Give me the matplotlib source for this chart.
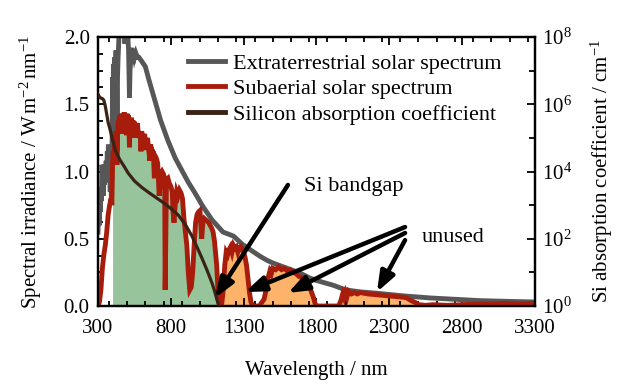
import numpy as np
import matplotlib
matplotlib.use("Agg")
import matplotlib.pyplot as plt
from matplotlib.ticker import MultipleLocator, LogLocator, NullFormatter

plt.rcParams['font.family'] = ['Liberation Serif', 'DejaVu Serif']
plt.rcParams['mathtext.fontset'] = 'custom'
plt.rcParams['mathtext.rm'] = 'Liberation Serif'
plt.rcParams['mathtext.it'] = 'Liberation Serif:italic'
plt.rcParams['font.size'] = 15

# Extraterrestrial (AM0) spectrum, W m^-2 nm^-1
etr_wl = [300, 304, 308, 312, 316, 320, 324, 328, 332, 336, 340, 344, 348, 352, 356,
          360, 364, 368, 372, 376, 380, 384, 388, 392, 396, 400, 404, 408, 412, 416,
          420, 424, 428, 431, 434, 438, 442, 446, 450, 455, 460, 465, 470, 475, 480,
          485, 490, 495, 500, 505, 510, 516, 520, 526, 532, 538, 545, 552, 560, 570,
          580, 600, 625, 650, 690, 730, 780, 830, 880, 920, 966, 1020, 1083, 1158,
          1230, 1290, 1343, 1412, 1460, 1500, 1550, 1600, 1687, 1750, 1800, 1913,
          2000, 2100, 2215, 2400, 2580, 2750, 2922, 3100, 3300]
etr_val = [0.55, 0.72, 0.60, 0.80, 0.70, 0.88, 0.78, 1.05, 0.95, 0.82, 1.05, 0.90, 1.00, 0.92, 1.08,
           0.98, 1.15, 1.05, 1.20, 0.95, 1.18, 0.85, 1.10, 0.75, 1.05, 1.70, 1.55, 1.80, 1.70, 1.85,
           1.72, 1.90, 1.60, 1.15, 1.70, 1.85, 1.95, 2.05, 2.10, 2.05, 2.10, 2.05, 2.10, 2.05, 2.12,
           1.95, 2.05, 2.00, 1.95, 2.00, 1.90, 1.55, 1.75, 1.85, 1.92, 1.80, 1.90, 1.85, 1.88, 1.85,
           1.85, 1.82, 1.78, 1.68, 1.53, 1.38, 1.23, 1.10, 1.00, 0.92, 0.84, 0.74, 0.64, 0.55,
           0.52, 0.46, 0.42, 0.37, 0.34, 0.32, 0.30, 0.28, 0.245, 0.21, 0.19, 0.155,
           0.12, 0.105, 0.095, 0.075, 0.06, 0.05, 0.04, 0.035, 0.03]

# Subaerial (AM1.5) spectrum, W m^-2 nm^-1
sub_wl = [300, 310, 320, 330, 340, 350, 360, 370, 380, 390, 395, 400, 405, 410, 415,
          420, 425, 430, 435, 440, 445, 450, 455, 460, 465, 470, 475, 480, 485, 490,
          495, 500, 505, 510, 516, 520, 525, 530, 535, 540, 545, 550, 560, 570, 580,
          590, 595, 600, 610, 620, 630, 640, 650, 656, 660, 670, 680, 687, 690, 700,
          710, 720, 725, 730, 740, 750, 758, 761, 765, 770, 780, 790, 800, 810, 815,
          822, 830, 840, 850, 860, 870, 880, 890, 900, 910, 920, 930, 940, 950, 960,
          970, 980, 990, 1000, 1012, 1020, 1030, 1040, 1050, 1060, 1070, 1080, 1090, 1100,
          1107, 1115, 1122, 1130, 1140, 1150, 1160, 1170, 1180, 1190, 1200, 1210, 1220, 1230,
          1240, 1250, 1260, 1270, 1280, 1290, 1300, 1310, 1320, 1330, 1340, 1350, 1360, 1410,
          1420, 1440, 1450, 1460, 1470, 1480, 1490, 1500, 1520, 1540, 1560, 1580, 1600, 1620,
          1640, 1660, 1680, 1700, 1720, 1740, 1760, 1780, 1790, 1800, 1950, 1960, 1970, 1980,
          1990, 2000, 2010, 2020, 2040, 2060, 2080, 2100, 2150, 2200, 2250, 2300, 2350, 2400,
          2420, 2450, 2480, 2500, 2550, 2600, 2700, 2800, 2900, 3000, 3100, 3200, 3300]
sub_val = [0.00, 0.03, 0.12, 0.28, 0.38, 0.45, 0.55, 0.68, 0.75, 0.80, 0.75, 1.05, 1.15, 1.10, 1.25,
           1.22, 1.30, 1.05, 1.30, 1.38, 1.28, 1.42, 1.30, 1.43, 1.28, 1.42, 1.30, 1.44, 1.28, 1.42,
           1.27, 1.43, 1.29, 1.42, 1.18, 1.35, 1.26, 1.40, 1.28, 1.38, 1.25, 1.37, 1.26, 1.36, 1.25,
           1.30, 1.15, 1.30, 1.20, 1.28, 1.16, 1.25, 1.14, 1.08, 1.20, 1.16, 1.14, 0.95, 1.12, 1.10,
           1.06, 0.82, 0.88, 0.98, 1.00, 0.98, 0.94, 0.12, 0.45, 0.94, 0.95, 0.91, 0.89, 0.85, 0.70,
           0.62, 0.75, 0.85, 0.82, 0.86, 0.84, 0.80, 0.65, 0.55, 0.45, 0.25, 0.12, 0.14, 0.25, 0.45,
           0.62, 0.68, 0.70, 0.71, 0.50, 0.62, 0.65, 0.64, 0.63, 0.62, 0.60, 0.58, 0.55, 0.48,
           0.40, 0.30, 0.15, 0.02, 0.00, 0.02, 0.12, 0.30, 0.40, 0.38, 0.42, 0.44, 0.40, 0.45,
           0.43, 0.44, 0.40, 0.43, 0.44, 0.42, 0.40, 0.36, 0.30, 0.20, 0.10, 0.03, 0.00, 0.00,
           0.02, 0.05, 0.10, 0.18, 0.22, 0.26, 0.24, 0.28, 0.27, 0.29, 0.27, 0.28, 0.26, 0.27,
           0.25, 0.24, 0.22, 0.21, 0.19, 0.16, 0.12, 0.06, 0.02, 0.00, 0.00, 0.02, 0.05, 0.09,
           0.06, 0.10, 0.07, 0.11, 0.09, 0.10, 0.09, 0.10, 0.09, 0.085, 0.08, 0.075, 0.07, 0.065,
           0.06, 0.04, 0.025, 0.01, 0.005, 0.01, 0.005, 0.01, 0.015, 0.015, 0.02, 0.015, 0.02]

# Silicon absorption coefficient, log10(cm^-1)
si_wl = [300, 310, 320, 330, 340, 350, 360, 370, 380, 400, 420, 450, 480, 506, 550,
         600, 650, 700, 750, 800, 850, 900, 945, 980, 1014, 1050, 1083, 1100, 1117, 1130]
si_log = [6.30, 6.22, 6.18, 6.17, 6.12, 5.95, 5.70, 5.45, 5.30, 4.95, 4.62, 4.35, 4.15, 3.96, 3.72,
          3.53, 3.37, 3.22, 3.07, 2.90, 2.71, 2.42, 2.08, 1.75, 1.42, 1.05, 0.68, 0.45, 0.18, 0.0]

bandgap_nm = 1107
used_start_nm = 400
unused_end_nm = 2500

x_ticks = [300, 800, 1300, 1800, 2300, 2800, 3300]
y_ticks = [0.0, 0.5, 1.0, 1.5, 2.0]

GREY = '#575757'
RED = '#a81c0c'
BROWN = '#3a2217'
GREEN = '#98c49b'
ORANGE = '#fdb46a'

fig = plt.figure(figsize=(6.19, 3.83), dpi=100)
ax = fig.add_axes([0.1583, 0.201, 0.7060, 0.7024])
ax2 = ax.twinx()

wl = np.array(sub_wl, dtype=float)
sv = np.array(sub_val, dtype=float)
ax.fill_between(wl, 0, sv, where=(wl >= used_start_nm) & (wl <= bandgap_nm),
                color=GREEN, lw=0, zorder=1)
ax.fill_between(wl, 0, sv, where=(wl >= bandgap_nm) & (wl <= unused_end_nm),
                color=ORANGE, lw=0, zorder=1)

l1, = ax.plot(etr_wl, etr_val, color=GREY, lw=3.5, zorder=2, solid_joinstyle='miter',
              label='Extraterrestrial solar spectrum')
l2, = ax.plot(sub_wl, sub_val, color=RED, lw=3.5, zorder=3, solid_joinstyle='miter',
              label='Subaerial solar spectrum')
l3, = ax2.plot(si_wl, 10 ** np.array(si_log), color=BROWN, lw=2.3, zorder=4,
               label='Silicon absorption coefficient')

ax.set_xlim(300, 3300)
ax.set_ylim(0, 2.0)
ax2.set_yscale('log')
ax2.set_ylim(1, 1e8)

ax.set_xticks(x_ticks)
ax.xaxis.set_minor_locator(MultipleLocator(125))
ax.set_yticks(y_ticks)
ax.set_yticklabels([f'{v:.1f}' for v in y_ticks])
ax.yaxis.set_minor_locator(MultipleLocator(0.125))
ax2.yaxis.set_major_locator(LogLocator(base=100))
ax2.yaxis.set_minor_locator(LogLocator(base=10, subs=(1.0,), numticks=20))
ax2.yaxis.set_minor_formatter(NullFormatter())

for a in (ax, ax2):
    for s in a.spines.values():
        s.set_linewidth(1.6)
ax.tick_params(which='both', direction='in', top=True, right=False, width=1.3, labelsize=15)
ax.tick_params(which='major', length=6)
ax.tick_params(which='minor', length=3.5)
ax.tick_params(axis='x', which='major', pad=9)
ax.tick_params(axis='y', which='major', pad=6)
ax2.tick_params(which='both', direction='in', width=1.3, labelsize=15)
ax2.tick_params(which='major', length=6, pad=5)
ax2.tick_params(which='minor', length=4)

ax.set_xlabel('Wavelength / nm', fontsize=15, labelpad=17)
ax.set_ylabel(r'Spectral irradiance / W$\,$m$^{-2}\,$nm$^{-1}$', fontsize=15, labelpad=14)
ax2.set_ylabel(r'Si absorption coefficient / cm$^{-1}$', fontsize=15, labelpad=12)

leg = ax2.legend(handles=[l1, l2, l3], loc='upper left', bbox_to_anchor=(0.205, 0.94),
                 frameon=False, fontsize=16, handlelength=1.7, handletextpad=0.35,
                 labelspacing=0.22, borderaxespad=0, borderpad=0)
for h in leg.get_lines():
    h.set_linewidth(3.5)

arrow = dict(arrowstyle='-|>,head_length=0.8,head_width=0.3', color='black', lw=3.2,
             shrinkA=0, shrinkB=0)

# Si bandgap pointer
ax2.annotate('', xy=(1103, 0.06), xytext=(1604, 0.90),
             xycoords=ax.transData, textcoords=ax.transData,
             arrowprops=arrow, zorder=6)
ax2.text(1717, 0.89, 'Si bandgap', transform=ax.transData,
         ha='left', va='center', fontsize=16)

# pointers to the unused regions
tails = [(2408, 0.587), (2408, 0.543), (2408, 0.49)]
heads = [(1309, 0.104), (1604, 0.097), (2215, 0.104)]
for t, h in zip(tails, heads):
    ax2.annotate('', xy=h, xytext=t, xycoords=ax.transData, textcoords=ax.transData,
                 arrowprops=arrow, zorder=6)
ax2.text(2524, 0.51, 'unused', transform=ax.transData, ha='left', va='center', fontsize=16)

fig.savefig('out.png', dpi=100)
